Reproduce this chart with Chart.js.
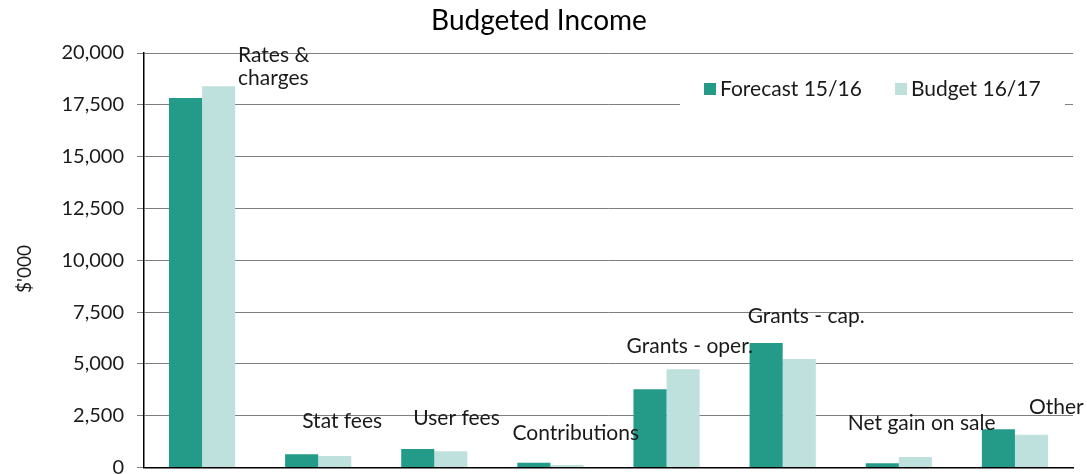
<!DOCTYPE html>
<html>
<head>
<meta charset="utf-8">
<script src="https://cdn.jsdelivr.net/npm/chart.js@4"></script>
<style>
  html, body { margin: 0; padding: 0; background: #fff; }
  #wrap { width: 1087px; height: 474px; }
</style>
</head>
<body>
<div id="wrap"><canvas id="incomeChart" width="1087" height="474"></canvas></div>
<script>
const categories = [["Rates &", "charges"], "Stat fees", "User fees", "Contributions",
    "Grants - oper.", "Grants - cap.", "Net gain on sale", "Other"];
const forecast = [17830, 640, 890, 230, 3770, 6010, 200, 1840];
const budget = [18400, 555, 780, 120, 4740, 5230, 505, 1580];
const yTicks = [0, 2500, 5000, 7500, 10000, 12500, 15000, 17500, 20000];

const seriesNames = ["Forecast 15/16", "Budget 16/17"];
const colors = ["#249b89", "#bfe1de"];
const FONT = "Lato, 'Noto Sans', sans-serif";

// label placement: dx from category centre, dy from top of taller bar (baseline)
const labelDx = [36, -16, -21, -38, -40, -35, -51, 14];
const labelDy = [-24, -26, -24, -23, -16, -20, -27, -15];

// category names, title, axis title and legend drawn by hand
const decorations = {
    id: 'decorations',
    afterDatasetsDraw(chart) {
        const ctx = chart.ctx;
        const x = chart.scales.x, y = chart.scales.y;
        const area = chart.chartArea;
        ctx.save();
        ctx.fillStyle = '#1a1a1a';
        ctx.font = '21px ' + FONT;
        ctx.textAlign = 'left';
        ctx.textBaseline = 'alphabetic';
        categories.forEach((label, i) => {
            const top = y.getPixelForValue(Math.max(forecast[i], budget[i]));
            const lx = x.getPixelForValue(i) + labelDx[i];
            const ly = top + labelDy[i];
            const lines = Array.isArray(label) ? label : [label];
            lines.forEach((line, k) => ctx.fillText(line, lx, ly + k * 23));
        });

        // title
        ctx.font = '28px ' + FONT;
        ctx.textAlign = 'center';
        ctx.fillStyle = '#000';
        ctx.fillText('Budgeted Income', 539, 30);

        // y axis title
        ctx.save();
        ctx.translate(25, 269);
        ctx.rotate(-Math.PI / 2);
        ctx.font = '19px ' + FONT;
        ctx.fillStyle = '#1a1a1a';
        ctx.textAlign = 'center';
        ctx.textBaseline = 'middle';
        ctx.fillText("$'000", 0, 0);
        ctx.restore();

        // legend box
        const lx0 = area.right - 393;
        ctx.fillStyle = '#fff';
        ctx.fillRect(lx0, 68, 385, 50);
        ctx.font = '21px ' + FONT;
        ctx.textAlign = 'left';
        ctx.textBaseline = 'middle';
        const items = [{ x: 704 }, { x: 895 }];
        items.forEach((it, i) => {
            ctx.fillStyle = colors[i];
            ctx.fillRect(it.x, 83, 12, 12);
            ctx.fillStyle = '#1a1a1a';
            ctx.fillText(seriesNames[i], it.x + 16, 89);
        });
        ctx.restore();
    }
};

new Chart(document.getElementById('incomeChart'), {
    type: 'bar',
    data: {
        labels: categories.map(c => Array.isArray(c) ? c.join(' ') : c),
        datasets: [
            { label: seriesNames[0], data: forecast, backgroundColor: colors[0] },
            { label: seriesNames[1], data: budget, backgroundColor: colors[1] }
        ]
    },
    options: {
        responsive: false,
        animation: false,
        layout: { padding: { left: 0, right: 14, top: 53, bottom: 6.5 } },
        datasets: { bar: { categoryPercentage: 0.57, barPercentage: 1.0 } },
        plugins: {
            legend: { display: false },
            title: { display: false },
            tooltip: { enabled: false }
        },
        scales: {
            x: {
                afterFit(scale) { scale.height = 0; },
                grid: { display: false, drawTicks: false },
                ticks: { display: false },
                border: { display: true, color: '#000', width: 1.5 }
            },
            y: {
                min: 0,
                max: 20000,
                afterFit(scale) {
                    scale.width = 144;
                    scale.paddingTop = 0;
                    scale.paddingBottom = 0;
                },
                afterBuildTicks(scale) { scale.ticks = yTicks.map(v => ({ value: v })); },
                grid: { color: '#7f7f7f', lineWidth: 1, tickLength: 7 },
                border: { display: true, color: '#000', width: 1.5 },
                ticks: {
                    color: '#1a1a1a',
                    font: { family: FONT, size: 20 },
                    padding: 13,
                    callback: v => v.toLocaleString('en-US')
                }
            }
        }
    },
    plugins: [decorations]
});
</script>
</body>
</html>
